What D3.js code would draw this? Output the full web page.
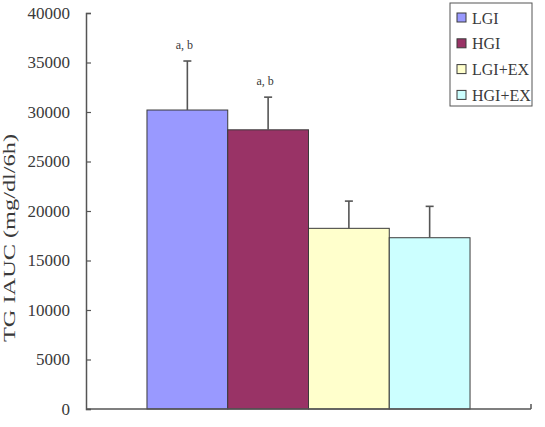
<!DOCTYPE html>
<html>
<head>
<meta charset="utf-8">
<script src="https://cdn.jsdelivr.net/npm/d3@7"></script>
<style>
  html, body { margin: 0; padding: 0; background: #fff; }
  svg { display: block; font-family: "Liberation Serif", "DejaVu Serif", serif; }
</style>
</head>
<body>
<div id="chart"></div>
<script>
// Datos
const groups = ['LGI', 'HGI', 'LGI+EX', 'HGI+EX'];
const means = [30200, 28200, 18250, 17300];
const sds = [4950, 3300, 2750, 3170];
const notes = ['a, b', 'a, b', '', ''];
const colors = ['#9999ff', '#993366', '#ffffcc', '#ccffff'];
const yTicks = [0, 5000, 10000, 15000, 20000, 25000, 30000, 35000, 40000];
const yLabel = 'TG IAUC (mg/dl/6h)';

const width = 545, height = 427;
const margin = { top: 13, right: 14, bottom: 18, left: 86 };

const svg = d3.select('#chart').append('svg')
  .attr('width', width)
  .attr('height', height);

// Escalas
const x = d3.scaleBand()
  .domain(groups)
  .range([margin.left, width - margin.right])
  .paddingInner(0)
  .paddingOuter(0.755);

const y = d3.scaleLinear()
  .domain([0, 40000])
  .range([height - margin.bottom, margin.top]);

const axisColor = '#555';
const textColor = '#3a3a3a';

// Barras
svg.selectAll('.bar')
  .data(groups)
  .enter()
  .append('rect')
  .attr('class', 'bar')
  .attr('x', d => x(d))
  .attr('y', (d, i) => y(means[i]))
  .attr('width', x.bandwidth())
  .attr('height', (d, i) => y(0) - y(means[i]))
  .attr('fill', (d, i) => colors[i])
  .attr('stroke', '#3a3a3a')
  .attr('stroke-width', 1);

// Barras de error
const err = svg.selectAll('.err')
  .data(groups)
  .enter()
  .append('g')
  .attr('class', 'err')
  .attr('stroke', axisColor)
  .attr('stroke-width', 1.6);

err.append('line')
  .attr('x1', d => x(d) + x.bandwidth() / 2)
  .attr('x2', d => x(d) + x.bandwidth() / 2)
  .attr('y1', (d, i) => y(means[i]))
  .attr('y2', (d, i) => y(means[i] + sds[i]));

err.append('line')
  .attr('x1', d => x(d) + x.bandwidth() / 2 - 4)
  .attr('x2', d => x(d) + x.bandwidth() / 2 + 4)
  .attr('y1', (d, i) => y(means[i] + sds[i]))
  .attr('y2', (d, i) => y(means[i] + sds[i]));

// Anotaciones
svg.selectAll('.note')
  .data(groups)
  .enter()
  .append('text')
  .attr('class', 'note')
  .attr('x', d => x(d) + x.bandwidth() / 2 - 3)
  .attr('y', (d, i) => y(means[i] + sds[i]) - 12)
  .attr('text-anchor', 'middle')
  .attr('font-size', 12)
  .attr('fill', textColor)
  .text((d, i) => notes[i]);

// Eje Y
const yAxis = svg.append('g')
  .attr('transform', `translate(${margin.left},0)`)
  .call(d3.axisLeft(y).tickValues(yTicks).tickSize(-5).tickPadding(16).tickFormat(d3.format('d')));
yAxis.select('.domain').attr('stroke', axisColor).attr('stroke-width', 1.5);
yAxis.selectAll('.tick line').attr('stroke', axisColor).attr('stroke-width', 1.2);
yAxis.selectAll('.tick text')
  .attr('font-family', '"Liberation Serif", serif')
  .attr('font-size', 17)
  .attr('fill', textColor);

// Eje X
svg.append('line')
  .attr('x1', margin.left)
  .attr('x2', width - margin.right)
  .attr('y1', y(0))
  .attr('y2', y(0))
  .attr('stroke', axisColor)
  .attr('stroke-width', 1.5);
svg.append('line')
  .attr('x1', width - margin.right)
  .attr('x2', width - margin.right)
  .attr('y1', y(0))
  .attr('y2', y(0) - 5)
  .attr('stroke', axisColor)
  .attr('stroke-width', 1.5);

// Título eje Y
svg.append('text')
  .attr('transform', `translate(15, ${238}) rotate(-90)`)
  .attr('text-anchor', 'middle')
  .attr('font-size', 16)
  .attr('fill', textColor)
  .attr('textLength', 208)
  .attr('lengthAdjust', 'spacingAndGlyphs')
  .text(yLabel);

// Leyenda
const legend = svg.append('g').attr('transform', 'translate(450,3)');
legend.append('rect')
  .attr('width', 82)
  .attr('height', 103)
  .attr('fill', '#fff')
  .attr('stroke', axisColor)
  .attr('stroke-width', 1);

const items = legend.selectAll('.item')
  .data(groups)
  .enter()
  .append('g')
  .attr('class', 'item')
  .attr('transform', (d, i) => `translate(7, ${15 + i * 25.8})`);

items.append('rect')
  .attr('x', 0)
  .attr('y', -5)
  .attr('width', 9)
  .attr('height', 9)
  .attr('fill', (d, i) => colors[i])
  .attr('stroke', '#3a3a3a')
  .attr('stroke-width', 1);

items.append('text')
  .attr('x', 15)
  .attr('y', 5.5)
  .attr('font-size', 16)
  .attr('fill', textColor)
  .text(d => d);
</script>
</body>
</html>
